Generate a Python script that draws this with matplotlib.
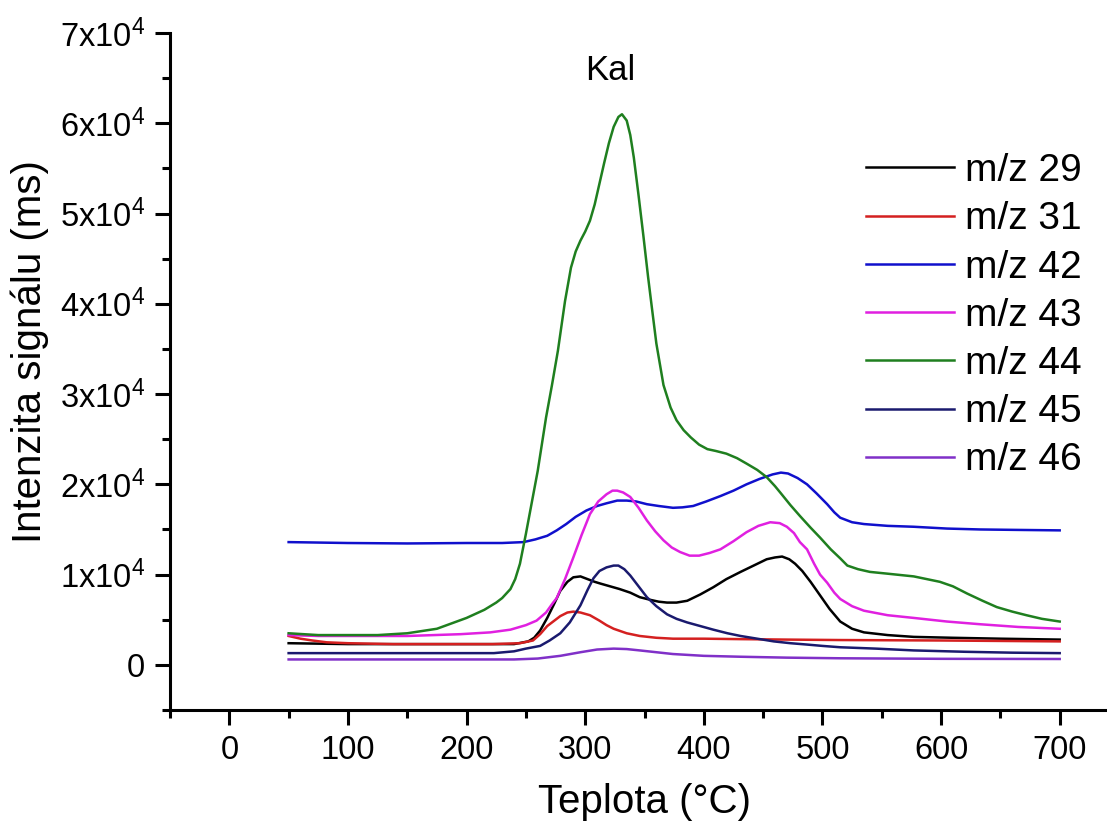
import matplotlib
matplotlib.use("Agg")
import matplotlib.pyplot as plt
from matplotlib.ticker import MultipleLocator, FuncFormatter

plt.rcParams["font.family"] = ["Liberation Sans", "DejaVu Sans"]
plt.rcParams["mathtext.default"] = "regular"

# MS signals vs temperature (intensity in counts)
T_29 = [50, 100, 150, 200, 240, 252, 257, 262, 268, 274, 279, 285, 290, 296, 302, 308, 313, 321,
        329, 338, 346, 355, 362, 369, 377, 386, 397, 408, 419, 431, 442, 453, 460, 466, 472, 477,
        483, 490, 498, 506, 515, 525, 535, 555, 577, 610, 650, 700]
I_29 = [2400, 2300, 2300, 2300, 2300, 2600, 3000, 3800, 5200, 6800, 8200, 9200, 9700, 9800, 9500,
        9200, 9000, 8700, 8400, 8000, 7500, 7200, 7000, 6900, 6900, 7100, 7800, 8600, 9500, 10300,
        11000, 11700, 11900, 12000, 11700, 11200, 10400, 9200, 7700, 6200, 4800, 4000, 3600, 3300,
        3100, 3000, 2900, 2800]

T_31 = [50, 60, 70, 82, 100, 138, 180, 222, 245, 256, 262, 268, 272, 279, 285, 290, 296, 304, 312,
        318, 324, 335, 346, 360, 374, 400, 431, 470, 515, 600, 700]
I_31 = [3200, 2900, 2700, 2500, 2400, 2300, 2300, 2300, 2400, 2700, 3400, 4300, 4700, 5400, 5800,
        5900, 5800, 5500, 4900, 4400, 4000, 3500, 3200, 3000, 2900, 2900, 2850, 2800, 2750, 2700,
        2600]

T_42 = [50, 100, 150, 200, 230, 248, 258, 268, 276, 284, 292, 301, 310, 318, 327, 335, 343, 352,
        362, 374, 382, 391, 402, 414, 425, 436, 447, 458, 465, 471, 479, 487, 495, 504, 510, 515,
        525, 535, 555, 577, 605, 633, 665, 700]
I_42 = [13600, 13500, 13450, 13500, 13500, 13600, 13900, 14300, 14900, 15600, 16400, 17100, 17600,
        17900, 18200, 18200, 18100, 17800, 17600, 17400, 17450, 17600, 18100, 18700, 19300, 20000,
        20600, 21100, 21300, 21200, 20700, 20000, 19000, 17800, 16900, 16300, 15800, 15600, 15400,
        15300, 15100, 15000, 14950, 14900]

T_43 = [50, 75, 100, 150, 195, 220, 237, 250, 259, 267, 273, 276, 283, 290, 297, 304, 311, 318, 323,
        327, 332, 338, 345, 352, 359, 366, 373, 380, 388, 396, 405, 414, 425, 436, 446, 456, 464,
        470, 476, 481, 487, 493, 498, 504, 510, 515, 525, 535, 555, 577, 605, 633, 665, 700]
I_43 = [3300, 3200, 3200, 3200, 3400, 3600, 3900, 4400, 4900, 5800, 6900, 7400, 9500, 11900, 14400,
        16700, 18100, 18900, 19300, 19300, 19100, 18600, 17400, 16000, 14800, 13800, 13000, 12500,
        12100, 12100, 12400, 12800, 13700, 14700, 15400, 15800, 15700, 15300, 14600, 13600, 12800,
        11200, 10000, 9100, 8000, 7300, 6500, 6000, 5500, 5200, 4800, 4500, 4200, 4000]

T_44 = [50, 75, 100, 125, 150, 175, 200, 215, 225, 230, 237, 241, 245, 250, 255, 260, 267, 272, 277,
        283, 288, 292, 296, 300, 304, 308, 312, 316, 320, 324, 328, 331, 335, 338, 341, 345, 349,
        353, 356, 360, 366, 372, 377, 383, 389, 396, 403, 410, 419, 428, 436, 445, 453, 460, 465,
        473, 481, 490, 498, 507, 515, 521, 530, 540, 555, 577, 599, 610, 622, 635, 647, 660, 672,
        685, 695, 700]
I_44 = [3500, 3300, 3300, 3300, 3500, 4000, 5200, 6100, 6900, 7400, 8400, 9500, 11200, 14500,
        18000, 21500, 27400, 31000, 34800, 40300, 44000, 45800, 47000, 48000, 49200, 51000, 53300,
        55600, 57800, 59600, 60700, 61000, 60300, 58700, 56200, 52000, 47600, 43000, 39800, 35600,
        31000, 28500, 27100, 26000, 25200, 24400, 23900, 23700, 23400, 22900, 22300, 21600, 20800,
        19800, 19000, 17700, 16500, 15200, 14100, 12800, 11800, 11000, 10600, 10300, 10100, 9800,
        9200, 8700, 7900, 7100, 6400, 5900, 5500, 5100, 4900, 4800]

T_45 = [50, 100, 150, 200, 223, 240, 250, 262, 270, 279, 287, 296, 302, 307, 312, 318, 324, 328, 333,
        338, 345, 352, 360, 369, 377, 386, 397, 408, 420, 431, 445, 459, 473, 487, 500, 515, 545,
        577, 620, 660, 700]
I_45 = [1300, 1300, 1300, 1300, 1300, 1500, 1800, 2100, 2700, 3500, 4700, 6600, 8300, 9600, 10400,
        10800, 11000, 11000, 10600, 9900, 8700, 7500, 6500, 5600, 5100, 4700, 4300, 3900, 3500, 3200,
        2900, 2600, 2400, 2250, 2100, 1950, 1800, 1600, 1450, 1350, 1300]

T_46 = [50, 100, 150, 200, 240, 260, 279, 296, 310, 324, 335, 346, 360, 374, 400, 431, 470, 515, 600,
        700]
I_46 = [600, 600, 600, 600, 600, 700, 1000, 1400, 1700, 1800, 1750, 1600, 1400, 1200, 1000, 900, 800,
        730, 670, 650]

SERIES = [
    ("m/z 29", T_29, I_29, "#000000"),
    ("m/z 31", T_31, I_31, "#d42020"),
    ("m/z 42", T_42, I_42, "#1010cc"),
    ("m/z 43", T_43, I_43, "#e020e0"),
    ("m/z 44", T_44, I_44, "#1f7f1f"),
    ("m/z 45", T_45, I_45, "#1a1a6e"),
    ("m/z 46", T_46, I_46, "#8030c8"),
]


def y_label(value, pos):
    n = int(round(value / 1e4))
    return "0" if n == 0 else rf"{n}x10$^{{4}}$"


fig = plt.figure(figsize=(11.07, 8.25), dpi=100)
ax = fig.add_axes([170 / 1107, 115 / 825, 949 / 1107, 677 / 825])

for label, t, inten, color in SERIES:
    ax.plot(t, inten, color=color, lw=1.8, label=label)

ax.set_xlim(-50, 750)
ax.set_ylim(-5000, 70000)
ax.xaxis.set_major_locator(MultipleLocator(100))
ax.xaxis.set_minor_locator(MultipleLocator(50))
ax.yaxis.set_major_locator(MultipleLocator(10000))
ax.yaxis.set_minor_locator(MultipleLocator(5000))
ax.yaxis.set_major_formatter(FuncFormatter(y_label))

for side in ("top", "right"):
    ax.spines[side].set_visible(False)
for side in ("left", "bottom"):
    ax.spines[side].set_linewidth(2.2)
ax.tick_params(which="major", direction="out", length=11, width=2.2, labelsize=23.5, pad=7)
ax.tick_params(which="minor", direction="out", length=6, width=2.2)

ax.set_xlabel("Teplota (°C)", fontsize=29, labelpad=12)
ax.set_ylabel("Intenzita signálu (ms)", fontsize=29)
ax.yaxis.set_label_coords(-0.128, 0.53)
ax.text(321, 65800, "Kal", fontsize=25, ha="center", va="center")

ax.legend(loc="upper left", bbox_to_anchor=(866 / 1107, 1 - 153 / 825),
          bbox_transform=fig.transFigure, frameon=False, fontsize=28,
          handlelength=2.26, handletextpad=0.28, labelspacing=0.315,
          borderpad=0, borderaxespad=0)

fig.savefig("out.png", dpi=100)
